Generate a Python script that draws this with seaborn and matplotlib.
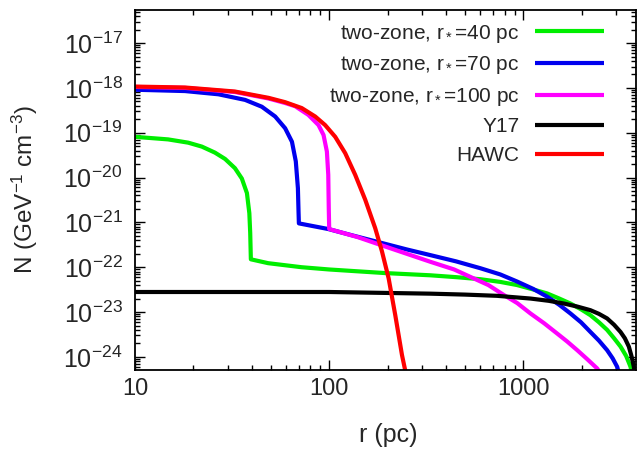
import numpy as np
import pandas as pd
import matplotlib
matplotlib.use("Agg")
import matplotlib.pyplot as plt
import matplotlib.ticker as mticker
import seaborn as sns

# ---------------- data ----------------
labels = ["two-zone, r$_*$=40 pc", "two-zone, r$_*$=70 pc",
          "two-zone, r$_*$=100 pc", "Y17", "HAWC"]
colors = ["#00ee00", "#0000ee", "#ff00ff", "#000000", "#ff0000"]

r_green = [10, 14.8, 18.8, 22.1, 25.8, 29.1, 32.7, 35.5, 37.7, 38.8, 39.2, 39.5,
           48.5, 60, 72, 100, 140, 194, 332, 450, 600, 760, 927, 1120, 1325,
           1530, 1746, 1980, 2213, 2450, 2698, 2930, 3162, 3380, 3562, 3650]
N_green = [8.1e-20, 7.1e-20, 6.0e-20, 4.9e-20, 3.6e-20, 2.6e-20, 1.62e-20,
           9.5e-21, 4.5e-21, 1.6e-21, 5.8e-22, 1.5e-22,
           1.23e-22, 1.1e-22, 1.0e-22, 8.9e-23, 8.1e-23, 7.4e-23, 6.6e-23,
           6.0e-23, 5.4e-23, 4.7e-23, 4.0e-23, 3.2e-23, 2.6e-23, 2.0e-23,
           1.55e-23, 1.15e-23, 8.5e-24, 5.9e-24, 4.0e-24, 2.6e-24, 1.7e-24,
           1.05e-24, 6.0e-25, 3.2e-25]

r_blue = [10, 18.1, 26.9, 36.9, 45, 52.7, 59.3, 64.3, 67.3, 69, 69.5, 69.8,
          99, 130, 183, 250, 332, 450, 600, 760, 927, 1120, 1325, 1530, 1746,
          1980, 2213, 2450, 2698, 2880, 3040, 3200]
N_blue = [9.1e-19, 8.5e-19, 7.2e-19, 5.4e-19, 3.8e-19, 2.3e-19, 1.26e-19,
          6.3e-20, 2.3e-20, 5.8e-21, 1.8e-21, 9.5e-22,
          7.1e-22, 5.2e-22, 3.55e-22, 2.5e-22, 1.86e-22, 1.35e-22, 9.5e-23,
          6.9e-23, 4.8e-23, 3.3e-23, 2.2e-23, 1.45e-23, 9.3e-24, 5.9e-24,
          3.6e-24, 2.3e-24, 1.41e-24, 9.3e-25, 6.0e-25, 2.5e-25]

r_mag = [10, 18.1, 32.7, 48.7, 59.3, 66.8, 78.1, 88.1, 93.5, 97.3, 98.9, 99.5,
         100, 140, 183, 250, 332, 440, 556, 660, 793, 930, 1087, 1280, 1494,
         1680, 1893, 2130, 2399, 2600]
N_mag = [1.05e-18, 1.0e-18, 8.1e-19, 5.8e-19, 4.6e-19, 3.9e-19, 2.5e-19,
         1.48e-19, 8.9e-20, 3.8e-20, 1.15e-20, 2.0e-21,
         7.1e-22, 4.7e-22, 3.16e-22, 2.0e-22, 1.32e-22, 8.9e-23, 5.6e-23,
         4.0e-23, 2.4e-23, 1.58e-23, 9.3e-24, 5.6e-24, 3.3e-24, 2.2e-24,
         1.41e-24, 8.9e-25, 5.5e-25, 3.2e-25]

r_black = [10, 100, 332, 500, 731, 1087, 1350, 1614, 1900, 2213, 2450, 2698,
           2930, 3162, 3330, 3490, 3600, 3704, 3760]
N_black = [2.8e-23, 2.8e-23, 2.57e-23, 2.45e-23, 2.3e-23, 2.0e-23, 1.78e-23,
           1.55e-23, 1.32e-23, 1.1e-23, 9.1e-24, 7.2e-24, 5.2e-24, 3.6e-24,
           2.6e-24, 1.7e-24, 1.05e-24, 6.0e-25, 3.2e-25]

r_red = [10, 18.1, 32.7, 48.7, 59.3, 72.2, 84.7, 95.3, 107.4, 120.9, 136.1,
         153.3, 172.6, 187, 202.4, 218.9, 237, 246, 250]
N_red = [1.07e-18, 1.02e-18, 8.3e-19, 6.0e-19, 4.8e-19, 3.55e-19, 2.3e-19,
         1.48e-19, 8.1e-20, 3.5e-20, 1.15e-20, 3.2e-21, 7.4e-22, 2.24e-22,
         5.6e-23, 8.5e-24, 1.1e-24, 5.1e-25, 3.2e-25]

xticks = [10, 100, 1000]
xtick_labels = ["10", "100", "1000"]
yticks = [1e-24, 1e-23, 1e-22, 1e-21, 1e-20, 1e-19, 1e-18, 1e-17]

# ---------------- build long table ----------------
frames = []
for lab, rr, nn in zip(labels,
                       [r_green, r_blue, r_mag, r_black, r_red],
                       [N_green, N_blue, N_mag, N_black, N_red]):
    frames.append(pd.DataFrame({"r": rr, "N": nn, "model": lab}))
df = pd.concat(frames, ignore_index=True)

# ---------------- style ----------------
sns.set_style("ticks")
plt.rcParams["font.family"] = ["Liberation Sans", "DejaVu Sans"]
plt.rcParams["mathtext.fontset"] = "custom"
plt.rcParams["mathtext.rm"] = "Liberation Sans"
plt.rcParams["mathtext.it"] = "Liberation Sans:italic"
plt.rcParams["mathtext.default"] = "regular"

fig = plt.figure(figsize=(6.41, 4.49), dpi=100)
ax = fig.add_axes([0.2106, 0.176, 0.7816, 0.802])

sns.lineplot(data=df, x="r", y="N", hue="model", hue_order=labels,
             palette=dict(zip(labels, colors)), sort=False, estimator=None,
             linewidth=3.0, ax=ax)
for ln in ax.get_lines():
    ln.set_solid_joinstyle("round")
    ln.set_solid_capstyle("butt")

ax.set_xscale("log")
ax.set_yscale("log")
ax.set_xlim(10, 3800)
ax.set_ylim(5.1e-25, 5.5e-17)

ax.xaxis.set_major_locator(mticker.FixedLocator(xticks))
ax.xaxis.set_major_formatter(mticker.FixedFormatter(xtick_labels))
ax.xaxis.set_minor_locator(mticker.LogLocator(base=10, subs=np.arange(2, 10), numticks=50))
ax.xaxis.set_minor_formatter(mticker.NullFormatter())
ax.yaxis.set_major_locator(mticker.FixedLocator(yticks))
ax.yaxis.set_major_formatter(mticker.LogFormatterSciNotation())
ax.yaxis.set_minor_locator(mticker.LogLocator(base=10, subs=np.arange(2, 10), numticks=100))
ax.yaxis.set_minor_formatter(mticker.NullFormatter())

ax.tick_params(which="both", direction="in", top=True, right=True,
               width=1.0, color="black")
ax.tick_params(axis="x", which="major", labelsize=17, pad=6)
ax.tick_params(axis="y", which="major", labelsize=18, pad=9)
ax.tick_params(which="major", length=7.5)
ax.tick_params(which="minor", length=3.8)
for s in ax.spines.values():
    s.set_linewidth(1.3)
    s.set_color("black")

ax.set_xlabel("r (pc)", fontsize=18)
ax.set_ylabel("N (GeV$^{-1}$ cm$^{-3}$)", fontsize=17.5)
ax.xaxis.set_label_coords(0.505, -0.147)
ax.yaxis.set_label_coords(-0.19, 0.5)

leg = ax.legend(loc="upper right", bbox_to_anchor=(0.965, 1.005), frameon=False,
                markerfirst=False, fontsize=15, handlelength=3.3,
                handletextpad=0.75, labelspacing=0.46, borderaxespad=0.3)
for h in leg.get_lines():
    h.set_linewidth(3.0)

fig.savefig("out.png", dpi=100)
